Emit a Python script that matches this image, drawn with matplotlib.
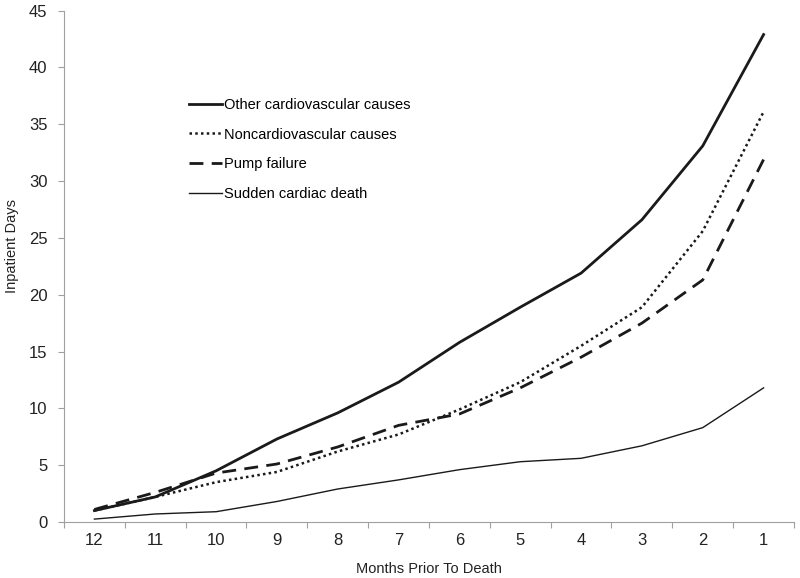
import numpy as np
import matplotlib.pyplot as plt

plt.rcParams['font.family'] = ['Liberation Sans', 'DejaVu Sans']

months = ['12', '11', '10', '9', '8', '7', '6', '5', '4', '3', '2', '1']
other_cv = [1.0, 2.2, 4.5, 7.3, 9.6, 12.3, 15.8, 18.9, 21.9, 26.6, 33.1, 42.9]
noncv = [1.0, 2.2, 3.5, 4.4, 6.2, 7.7, 9.9, 12.3, 15.5, 18.9, 25.6, 36.1]
pump = [1.1, 2.6, 4.3, 5.1, 6.6, 8.5, 9.5, 11.8, 14.5, 17.5, 21.3, 31.9]
sudden = [0.25, 0.7, 0.9, 1.8, 2.9, 3.7, 4.6, 5.3, 5.6, 6.7, 8.3, 11.8]

fig = plt.figure(figsize=(8, 5.78), dpi=100)
ax = fig.add_axes([0.08, 0.097, 0.9125, 0.8845])

x = np.arange(len(months))
ax.plot(x, other_cv, color='#1a1a1a', lw=2.0, label='Other cardiovascular causes')
ax.plot(x, noncv, color='#1a1a1a', lw=1.8, linestyle=(0, (1, 1.3)), label='Noncardiovascular causes')
ax.plot(x, pump, color='#1a1a1a', lw=2.0, linestyle=(0, (5, 3)), label='Pump failure')
ax.plot(x, sudden, color='#1a1a1a', lw=1.0, label='Sudden cardiac death')

ax.set_xlim(-0.5, len(months) - 0.5)
ax.set_ylim(0, 45)
ax.set_yticks(range(0, 50, 5))
ax.set_xticks(np.arange(-0.5, len(months), 1.0))
ax.set_xticklabels([])
ax.set_xticks(x, minor=True)
ax.set_xticklabels(months, minor=True)
ax.tick_params(axis='x', which='minor', length=0, pad=8, labelsize=12, colors='#222222')
ax.tick_params(axis='x', which='major', length=4, color='#a0a0a0')
ax.tick_params(axis='y', length=4, color='#a0a0a0', labelsize=12, labelcolor='#222222', pad=8)

for s in ['top', 'right']:
    ax.spines[s].set_visible(False)
for s in ['left', 'bottom']:
    ax.spines[s].set_color('#a0a0a0')

ax.set_xlabel('Months Prior To Death', fontsize=10.5, color='#222222', labelpad=10)
ax.set_ylabel('Inpatient Days', fontsize=10.5, color='#222222')
ax.yaxis.set_label_coords(-0.061, 0.54)

ax.legend(frameon=False, loc='upper left', bbox_to_anchor=(0.153, 0.855),
          fontsize=10.5, handlelength=2.27, handletextpad=0.14, labelspacing=1.07)

plt.savefig('out.png', dpi=100)
